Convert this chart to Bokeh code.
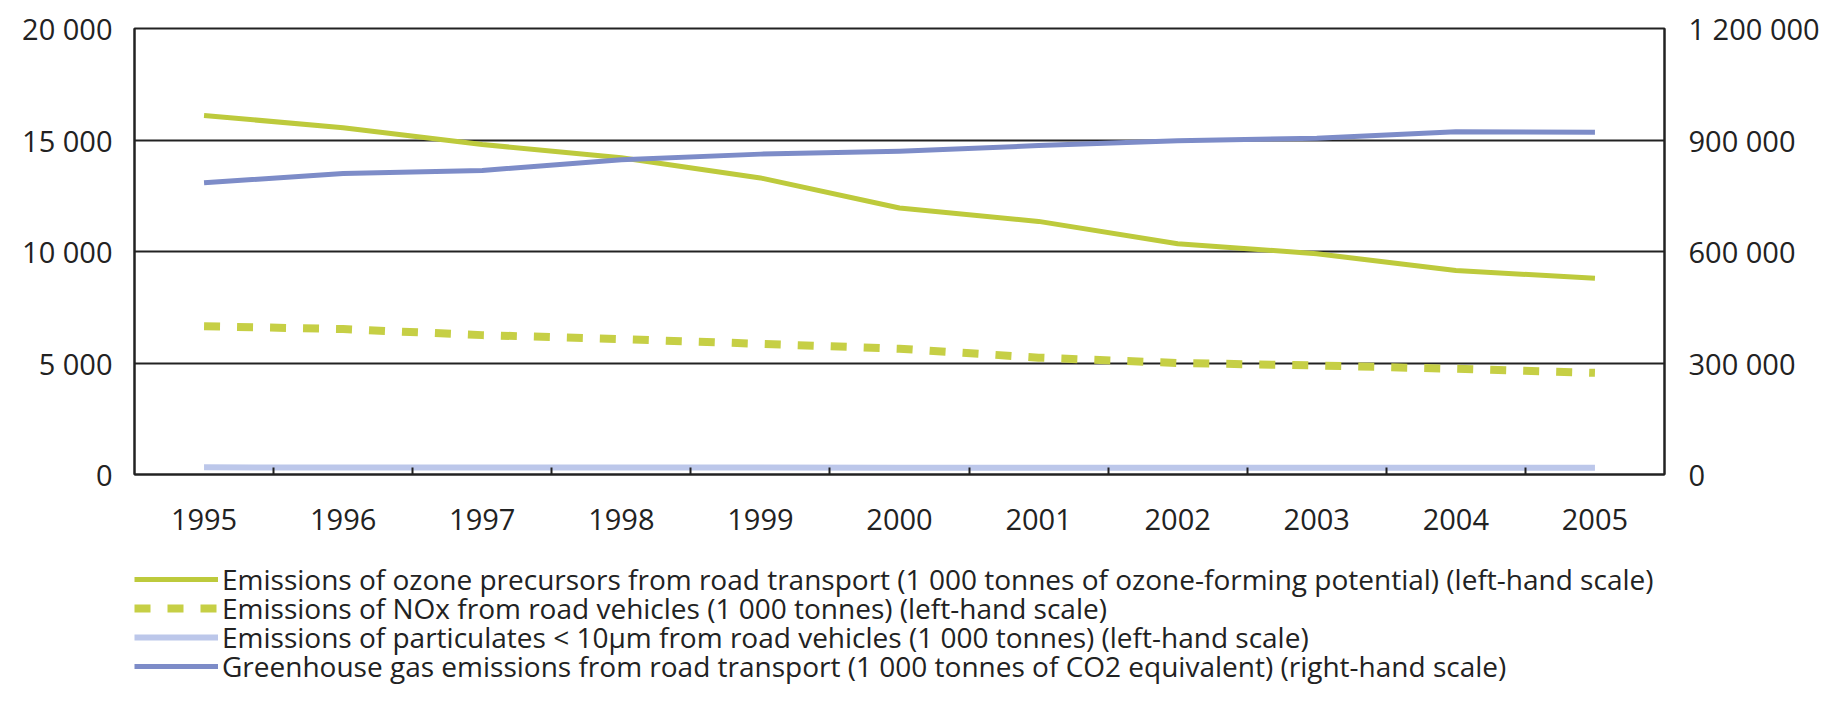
from bokeh.plotting import figure
from bokeh.layouts import column
from bokeh.models import (Range1d, LinearAxis, FixedTicker, Legend, LegendItem)
from bokeh.embed import file_html
from bokeh.resources import INLINE

# ---- data ----
years = [1995, 1996, 1997, 1998, 1999, 2000, 2001, 2002, 2003, 2004, 2005]
ozone = [16100, 15550, 14800, 14200, 13300, 11950, 11350, 10350, 9900, 9150, 8800]
nox = [6650, 6520, 6250, 6070, 5860, 5640, 5240, 5000, 4890, 4740, 4560]
pm10 = [320, 318, 315, 312, 310, 308, 306, 304, 302, 300, 300]
ghg = [785000, 810000, 818000, 847000, 862000, 870000, 885000, 898000, 905000, 922000, 921000]

left_ticks = [0, 5000, 10000, 15000, 20000]
left_labels = ["0", "5 000", "10 000", "15 000", "20 000"]
right_ticks = [0, 300000, 600000, 900000, 1200000]
right_labels = ["0", "300 000", "600 000", "900 000", "1 200 000"]

names = [
    "Emissions of ozone precursors from road transport (1 000 tonnes of ozone-forming potential) (left-hand scale)",
    "Emissions of NOx from road vehicles (1 000 tonnes) (left-hand scale)",
    "Emissions of particulates < 10\u00b5m from road vehicles (1 000 tonnes) (left-hand scale)",
    "Greenhouse gas emissions from road transport (1 000 tonnes of CO2 equivalent) (right-hand scale)",
]

FONT = "Open Sans"
FS = "29px"
GREEN = "#bdca3c"
GREEN2 = "#c6cf45"
BLUE = "#7d8cc8"
LIGHT = "#bcc7ea"
INK = "#222222"

W = 1822
p = figure(width=W, height=554, output_backend="svg", toolbar_location=None,
           x_range=Range1d(years[0] - 0.5, years[-1] + 0.5),
           y_range=Range1d(0, 20000),
           min_border_left=134, min_border_right=155, min_border_top=28,
           min_border_bottom=80)
p.extra_y_ranges = {"ghg": Range1d(0, 1200000)}

p.outline_line_color = INK
p.outline_line_width = 2
p.background_fill_color = "white"
p.border_fill_color = "white"

# x axis
p.xaxis.ticker = FixedTicker(ticks=years, minor_ticks=[y + 0.5 for y in years[:-1]])
p.xaxis.major_tick_in = 0
p.xaxis.major_tick_out = 0
p.xaxis.minor_tick_in = 7
p.xaxis.minor_tick_out = 0
p.xaxis.minor_tick_line_color = INK
p.xaxis.minor_tick_line_width = 2
p.xaxis.axis_line_color = INK
p.xaxis.axis_line_width = 2
p.xaxis.major_label_standoff = 34
p.xaxis.major_label_text_font = FONT
p.xaxis.major_label_text_font_size = FS
p.xaxis.major_label_text_color = INK

# left axis
p.yaxis.ticker = FixedTicker(ticks=left_ticks)
p.yaxis.major_label_overrides = dict(zip(left_ticks, left_labels))
p.yaxis.major_tick_in = 0
p.yaxis.major_tick_out = 0
p.yaxis.minor_tick_line_color = None
p.yaxis.axis_line_color = INK
p.yaxis.axis_line_width = 2
p.yaxis.major_label_standoff = 22
p.yaxis.major_label_text_font = FONT
p.yaxis.major_label_text_font_size = FS
p.yaxis.major_label_text_color = INK

# right axis
ra = LinearAxis(y_range_name="ghg", ticker=FixedTicker(ticks=right_ticks))
ra.major_label_overrides = dict(zip(right_ticks, right_labels))
ra.major_tick_in = 0
ra.major_tick_out = 0
ra.minor_tick_line_color = None
ra.axis_line_color = INK
ra.axis_line_width = 2
ra.major_label_standoff = 24
ra.major_label_text_font = FONT
ra.major_label_text_font_size = FS
ra.major_label_text_color = INK
p.add_layout(ra, "right")

# grid
p.xgrid.grid_line_color = None
p.ygrid.ticker = FixedTicker(ticks=left_ticks[1:-1])
p.ygrid.grid_line_color = INK
p.ygrid.grid_line_width = 2

# series
styles = [
    dict(line_color=GREEN, line_width=5, line_join="round"),
    dict(line_color=GREEN2, line_width=8, line_dash="16 17"),
    dict(line_color=LIGHT, line_width=6),
    dict(line_color=BLUE, line_width=5, line_join="round"),
]
series = [ozone, nox, pm10, ghg]
p.line(years, pm10, **styles[2])
p.line(years, nox, **styles[1])
p.line(years, ozone, **styles[0])
p.line(years, ghg, y_range_name="ghg", **styles[3])

# legend panel (separate figure below the chart); its frame is aligned
# with the chart's frame, key renderers fall outside its ranges
LH = 146
q = figure(width=W, height=LH, output_backend="svg", toolbar_location=None,
           x_range=Range1d(0, 1), y_range=Range1d(0, 1),
           min_border_left=0, min_border_right=0, min_border_top=0, min_border_bottom=0)
q.axis.visible = False
q.grid.visible = False
q.outline_line_color = None
q.background_fill_color = "white"
q.border_fill_color = "white"
keys = [q.line(years, s, **st) for s, st in zip(series, styles)]

row_offsets = [101, 72, 43, 14]
for name, r, off in zip(names, keys, row_offsets):
    lg = Legend(items=[LegendItem(label=name, renderers=[r])], location=(0, off))
    lg.label_text_font = FONT
    lg.label_text_font_size = "28px"
    lg.label_text_color = INK
    lg.glyph_width = 84
    lg.glyph_height = 40
    lg.label_height = 40
    lg.label_standoff = 4
    lg.padding = 0
    lg.margin = 0
    lg.border_line_color = None
    lg.background_fill_alpha = 0
    q.add_layout(lg, "center")

layout = column(p, q, spacing=0)
open("out.html", "w").write(file_html(layout, INLINE))
